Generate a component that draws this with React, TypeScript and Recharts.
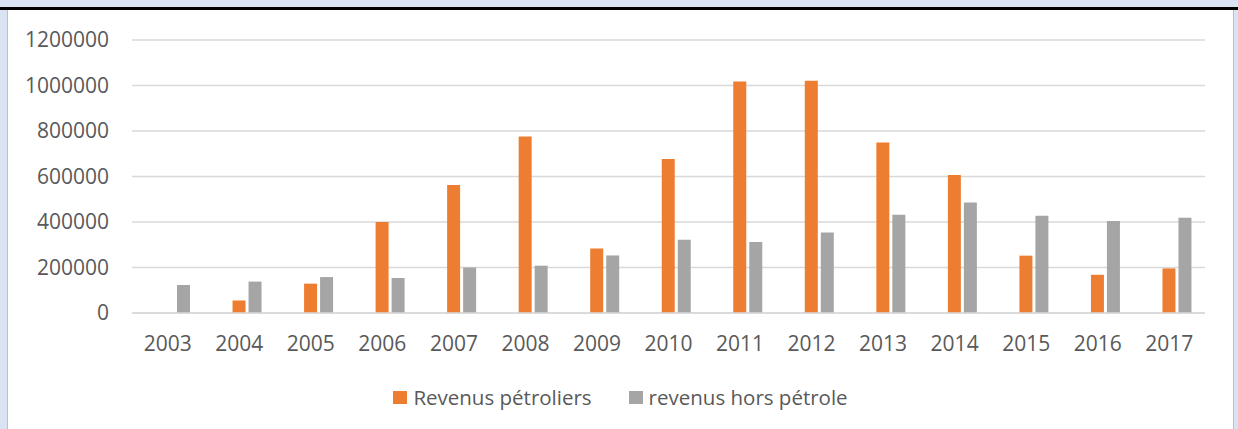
import React from 'react';
import { BarChart, Bar, XAxis, YAxis, CartesianGrid, Legend } from 'recharts';

const years = ['2003', '2004', '2005', '2006', '2007', '2008', '2009', '2010', '2011', '2012', '2013', '2014', '2015', '2016', '2017'];
const revenusPetroliers = [0, 55000, 129000, 400000, 563000, 776000, 283000, 677000, 1018000, 1021000, 749000, 607000, 252000, 168000, 196000];
const revenusHorsPetrole = [123000, 138000, 158000, 154000, 200000, 208000, 253000, 322000, 312000, 354000, 432000, 486000, 428000, 404000, 419000];
const yTicks = [0, 200000, 400000, 600000, 800000, 1000000, 1200000];

const seriesNames = ['Revenus pétroliers', 'revenus hors pétrole'];
const colors = ['#ED7D31', '#A5A5A5'];

const data = years.map((y, i) => ({
    year: y,
    vide: null,
    petrole: revenusPetroliers[i] || null,
    horsPetrole: revenusHorsPetrole[i],
}));

const textColor = '#595959';
const gridColor = '#D9D9D9';

function ChartLegend() {
    return (
        <div style={{ display: 'flex', justifyContent: 'center', alignItems: 'center', width: '100%', height: 26 }}>
            {seriesNames.map((name, i) => (
                <div key={name} style={{ display: 'flex', alignItems: 'center', marginRight: i === 0 ? 37 : 0 }}>
                    <span style={{ display: 'inline-block', width: 14, height: 13, background: colors[i], marginRight: 6 }} />
                    <span style={{ color: textColor, fontSize: 20.5 }}>{name}</span>
                </div>
            ))}
        </div>
    );
}

export default function App() {
    return (
        <div style={{ position: 'absolute', left: 0, top: 0, width: 1238, height: 429, background: '#DAE3F3', overflow: 'hidden', fontFamily: '"Open Sans", sans-serif' }}>
            <div style={{ position: 'absolute', left: 0, top: 7, width: 1238, height: 3, background: '#000' }} />
            <div style={{ position: 'absolute', left: 7, top: 10, width: 1227, height: 419, background: '#fff', borderLeft: '1px solid #BFBFBF', borderRight: '1px solid #BFBFBF', boxSizing: 'border-box' }}>
                <BarChart
                    width={1225}
                    height={419}
                    data={data}
                    margin={{ top: 30, right: 28, left: 0, bottom: 0 }}
                    barSize={13}
                    barGap={3}
                >
                    <CartesianGrid vertical={false} stroke={gridColor} strokeWidth={1.5} />
                    <XAxis
                        dataKey="year"
                        axisLine={{ stroke: gridColor, strokeWidth: 1.5 }}
                        tickLine={false}
                        tickSize={0}
                        tickMargin={23}
                        height={90}
                        tick={{ fontSize: 21, fill: textColor }}
                        interval={0}
                    />
                    <YAxis
                        domain={[0, 1200000]}
                        ticks={yTicks}
                        width={124}
                        axisLine={false}
                        tickLine={false}
                        tickSize={0}
                        tickMargin={23}
                        tick={{ fontSize: 21, fill: textColor }}
                        interval={0}
                    />
                    <Legend
                        content={() => <ChartLegend />}
                        wrapperStyle={{ position: 'absolute', top: 374, left: 0, width: 1225, height: 26 }}
                    />
                    <Bar dataKey="vide" fill="transparent" legendType="none" isAnimationActive={false} />
                    <Bar dataKey="petrole" name={seriesNames[0]} fill={colors[0]} isAnimationActive={false} />
                    <Bar dataKey="horsPetrole" name={seriesNames[1]} fill={colors[1]} isAnimationActive={false} />
                </BarChart>
            </div>
        </div>
    );
}
